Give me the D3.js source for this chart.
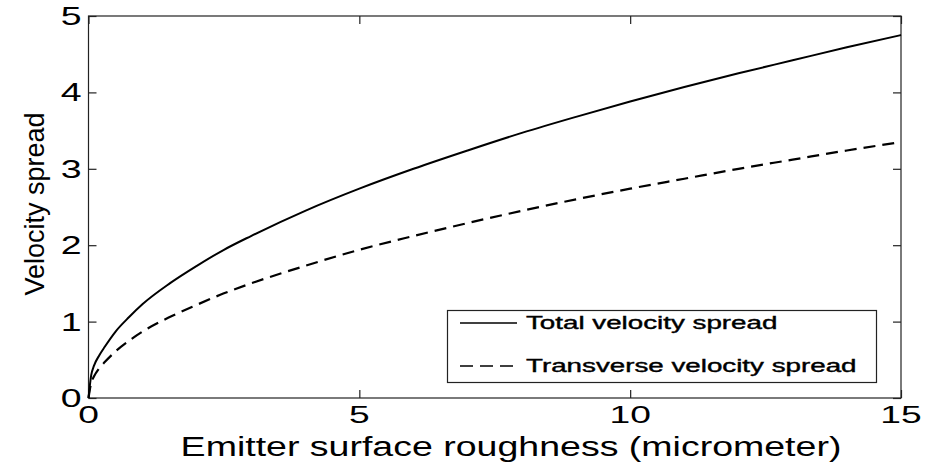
<!DOCTYPE html>
<html lang="en">
<head>
  <meta charset="UTF-8">
  <title>Velocity spread vs roughness</title>
  <script src="https://d3js.org/d3.v7.min.js"></script>
  <style>
    body { margin: 0; background: #fff; }
    text { font-family: "Liberation Sans", Arial, sans-serif; fill: #000; }
  </style>
</head>
<body>
  <div id="chart"></div>
  <script>
    // values
    const roughness = [0, 0.05, 0.1, 0.2, 0.3, 0.5, 0.75, 1, 1.5, 2, 2.5, 3, 4, 5, 6, 7, 8, 9, 10, 11, 12, 13, 14, 15];
    const totalSpread = [0, 0.3, 0.42, 0.56, 0.67, 0.87, 1.06, 1.23, 1.50, 1.73, 1.94, 2.12, 2.45, 2.74, 3.00, 3.24, 3.47, 3.68, 3.88, 4.07, 4.25, 4.42, 4.59, 4.75];
    const transverseSpread = [0, 0.2, 0.28, 0.39, 0.47, 0.61, 0.75, 0.87, 1.06, 1.22, 1.37, 1.50, 1.73, 1.94, 2.12, 2.29, 2.45, 2.60, 2.74, 2.87, 3.00, 3.12, 3.24, 3.35];
    const xTicks = [0, 5, 10, 15];
    const yTicks = [0, 1, 2, 3, 4, 5];
    const seriesNames = ["Total velocity spread", "Transverse velocity spread"];

    const W = 925, H = 463;
    const margin = { top: 16, right: 24, bottom: 65, left: 88.5 };
    const width = W - margin.left - margin.right;
    const height = H - margin.top - margin.bottom;

    const svg = d3.select("#chart").append("svg")
      .attr("width", W).attr("height", H);
    const g = svg.append("g")
      .attr("transform", `translate(${margin.left},${margin.top})`);

    const x = d3.scaleLinear().domain([0, 15]).range([0, width]);
    const y = d3.scaleLinear().domain([0, 5]).range([height, 0]);

    // stretched text, as in the original image
    function label(parent, str, px, py, size, sx, anchor) {
      return parent.append("text")
        .attr("transform", `translate(${px},${py}) scale(${sx},1)`)
        .attr("text-anchor", anchor)
        .attr("font-size", size + "px")
        .text(str);
    }

    // box
    g.append("rect")
      .attr("width", width).attr("height", height)
      .attr("fill", "none").attr("stroke", "#222").attr("stroke-width", 1.2);

    // axes with inward ticks, on all sides
    const tick = 8;
    g.append("g").attr("transform", `translate(0,${height})`)
      .call(d3.axisBottom(x).tickValues(xTicks).tickSize(-tick).tickFormat(""));
    g.append("g")
      .call(d3.axisTop(x).tickValues(xTicks).tickSize(-tick).tickFormat(""));
    g.append("g")
      .call(d3.axisLeft(y).tickValues(yTicks).tickSize(-tick).tickFormat(""));
    g.append("g").attr("transform", `translate(${width},0)`)
      .call(d3.axisRight(y).tickValues(yTicks).tickSize(-tick).tickFormat(""));
    g.selectAll(".domain").remove();
    g.selectAll(".tick line").attr("stroke", "#222").attr("stroke-width", 1.2);

    xTicks.forEach(v => label(g, v, x(v), height + 25, 24, 1.55, "middle"));
    yTicks.forEach(v => label(g, v, -7, y(v) + 9, 25, 1.5, "end"));

    // axis titles
    label(svg, "Emitter surface roughness (micrometer)", 511, 456, 28, 1.34, "middle");
    svg.append("text")
      .attr("transform", "translate(44,204) rotate(-90)")
      .attr("text-anchor", "middle")
      .attr("font-size", "27px")
      .text("Velocity spread");

    // curves
    const line = d3.line()
      .x(d => x(d[0]))
      .y(d => y(d[1]))
      .curve(d3.curveMonotoneX);

    g.append("path")
      .datum(roughness.map((r, i) => [r, totalSpread[i]]))
      .attr("d", line)
      .attr("fill", "none").attr("stroke", "#000").attr("stroke-width", 2);

    g.append("path")
      .datum(roughness.map((r, i) => [r, transverseSpread[i]]))
      .attr("d", line)
      .attr("fill", "none").attr("stroke", "#000").attr("stroke-width", 2.2)
      .attr("stroke-dasharray", "12,7");

    // legend
    const leg = svg.append("g");
    leg.append("rect")
      .attr("x", 447.5).attr("y", 310.5).attr("width", 429).attr("height", 72)
      .attr("fill", "#fff").attr("stroke", "#222").attr("stroke-width", 1.2);
    const dashes = [null, "13,7"];
    seriesNames.forEach((name, i) => {
      const cy = 323 + i * 43;
      leg.append("line")
        .attr("x1", 460).attr("x2", 517).attr("y1", cy).attr("y2", cy)
        .attr("stroke", "#000").attr("stroke-width", 1.5)
        .attr("stroke-dasharray", dashes[i]);
      label(leg, name, 526, cy + 5.5, 18.5, 1.5, "start")
        .attr("stroke", "#000").attr("stroke-width", 0.4);
    });
  </script>
</body>
</html>
